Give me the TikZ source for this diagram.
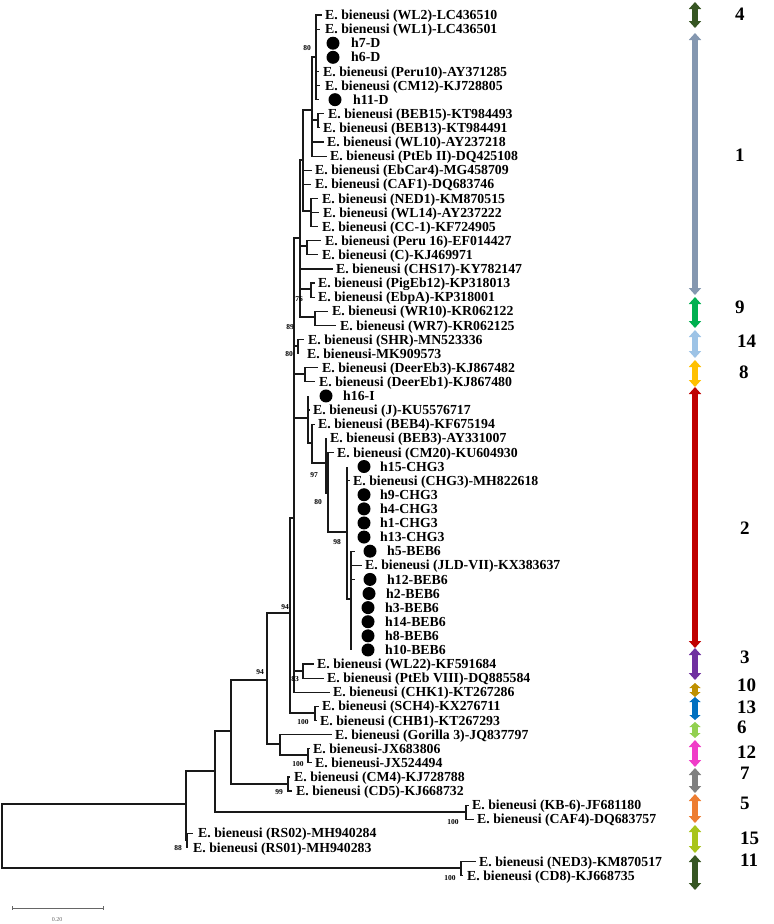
\documentclass[tikz,border=0pt]{standalone}
\usepackage{fontspec}
\setmainfont{Liberation Serif}
\usetikzlibrary{arrows.meta}
\definecolor{gA}{HTML}{375623}
\definecolor{gB}{HTML}{8497B0}
\definecolor{gC}{HTML}{00B050}
\definecolor{gD}{HTML}{9DC3E6}
\definecolor{gE}{HTML}{FFC000}
\definecolor{gF}{HTML}{C00000}
\definecolor{gG}{HTML}{7030A0}
\definecolor{gH}{HTML}{BF9000}
\definecolor{gI}{HTML}{0070C0}
\definecolor{gJ}{HTML}{92D050}
\definecolor{gK}{HTML}{F03CC8}
\definecolor{gL}{HTML}{808080}
\definecolor{gM}{HTML}{ED7D31}
\definecolor{gN}{HTML}{A8C41A}
\tikzset{
  br/.style={line width=1.2pt, draw=black!90},
  lt/.style={anchor=base west, inner sep=0pt, font=\fontsize{13.8}{15}\selectfont\bfseries},
  bs/.style={inner sep=0pt, font=\fontsize{7.5}{8}\selectfont\bfseries},
  dotn/.style={circle, fill=black, minimum size=13pt, inner sep=0pt},
  grp/.style={line width=6pt, {Triangle[width=12pt,length=7pt]}-{Triangle[width=12pt,length=7pt]}},
  grps/.style={line width=6pt, {Triangle[width=11pt,length=5pt]}-{Triangle[width=11pt,length=5pt]}},
  gl/.style={anchor=west, inner sep=0pt, font=\fontsize{19}{20}\selectfont\bfseries}
}
\newcommand\leafT[6]{%
  \pgfmathsetmacro\yy{15+(#3-1)*14.11}%
  \coordinate (#1) at (#4,\yy);
  \node[lt] (#1t) at (#5,\yy+4.6) {#6};
  \draw[br] (#2) |- (#1);
}
\newcommand\leafH[7]{%
  \pgfmathsetmacro\yy{15+(#3-1)*14.11}%
  \coordinate (#1) at (#4,\yy);
  \node[dotn] (#1d) at (#5,\yy) {};
  \node[lt] (#1t) at (#6,\yy+4.6) {#7};
  \draw[br] (#2) |- (#1);
}
\newcommand\grpArrow[8]{%
  \coordinate (#1a) at (695,#3);
  \coordinate (#1b) at (695,#4);
  \draw[#8, draw=#2] (#1a) -- (#1b);
  \node[gl] (#1l) at (#5,#6) {#7};
}
\begin{document}
\begin{tikzpicture}[x=1pt,y=-1pt]
\useasboundingbox (0,0) rectangle (774,924);
% internal nodes
\coordinate (root) at (2,835);
\coordinate (nA) at (186,804);
\coordinate (nNED3) at (461,868);
\coordinate (nB) at (215,771);
\coordinate (nRS) at (187,840);
\coordinate (nC) at (231,731);
\coordinate (nKB) at (466,812);
\coordinate (nD) at (267,680);
\coordinate (nCM) at (288,784);
\coordinate (nE) at (290,613);
\coordinate (nGor) at (280,744);
\coordinate (nJX) at (308,755);
\coordinate (nF) at (294,518);
\coordinate (nSCH) at (315,713);
\coordinate (nWL22) at (303,671);
\coordinate (n300) at (300,238);
\coordinate (nSHR) at (298,346);
\coordinate (nDeer) at (305,374);
\coordinate (n308) at (308,418);
\coordinate (n312b) at (312,443);
\coordinate (n326) at (326,463);
\coordinate (n328) at (328,493);
\coordinate (nCB) at (347,532);
\coordinate (nBEB6) at (351,599);
\coordinate (n303) at (303,160);
\coordinate (nPeru) at (307,246);
\coordinate (nPig) at (311,289);
\coordinate (nWR) at (315,317);
\coordinate (n312) at (312,110);
\coordinate (nNED) at (311,211);
\coordinate (n80a) at (316,57);
\coordinate (nBEB) at (318,120);
% internal edges
\draw[br] (root) |- (nA);
\draw[br] (root) |- (nNED3);
\draw[br] (nA) |- (nB);
\draw[br] (nA) |- (nRS);
\draw[br] (nB) |- (nC);
\draw[br] (nB) |- (nKB);
\draw[br] (nC) |- (nD);
\draw[br] (nC) |- (nCM);
\draw[br] (nD) |- (nE);
\draw[br] (nD) |- (nGor);
\draw[br] (nGor) |- (nJX);
\draw[br] (nE) |- (nF);
\draw[br] (nE) |- (nSCH);
\draw[br] (nF) |- (n300);
\draw[br] (nF) |- (nSHR);
\draw[br] (nF) |- (nDeer);
\draw[br] (nF) |- (n308);
\draw[br] (nF) |- (nWL22);
\draw[br] (n308) |- (n312b);
\draw[br] (n312b) |- (n326);
\draw[br] (n326) |- (n328);
\draw[br] (n328) |- (nCB);
\draw[br] (nCB) |- (nBEB6);
\draw[br] (n300) |- (n303);
\draw[br] (n300) |- (nPeru);
\draw[br] (n300) |- (nPig);
\draw[br] (n300) |- (nWR);
\draw[br] (n303) |- (n312);
\draw[br] (n303) |- (nNED);
\draw[br] (n312) |- (n80a);
\draw[br] (n312) |- (nBEB);
% leaves
\leafT{l1}{n80a}{1}{322}{325}{E. bieneusi (WL2)-LC436510}
\leafT{l2}{n80a}{2}{320}{325}{E. bieneusi (WL1)-LC436501}
\leafH{l3}{n80a}{3}{316}{333}{351}{h7-D}
\leafH{l4}{n80a}{4}{316}{333}{351}{h6-D}
\leafT{l5}{n80a}{5}{319}{323}{E. bieneusi (Peru10)-AY371285}
\leafT{l6}{n80a}{6}{320}{325}{E. bieneusi (CM12)-KJ728805}
\leafH{l7}{n80a}{7}{319}{335}{353}{h11-D}
\leafT{l8}{nBEB}{8}{324}{328}{E. bieneusi (BEB15)-KT984493}
\leafT{l9}{nBEB}{9}{320}{323}{E. bieneusi (BEB13)-KT984491}
\leafT{l10}{n312}{10}{324}{327}{E. bieneusi (WL10)-AY237218}
\leafT{l11}{n312}{11}{327}{330}{E. bieneusi (PtEb II)-DQ425108}
\leafT{l12}{n303}{12}{312}{315}{E. bieneusi (EbCar4)-MG458709}
\leafT{l13}{n303}{13}{311}{315}{E. bieneusi (CAF1)-DQ683746}
\leafT{l14}{nNED}{14}{318}{322}{E. bieneusi (NED1)-KM870515}
\leafT{l15}{nNED}{15}{319}{323}{E. bieneusi (WL14)-AY237222}
\leafT{l16}{nNED}{16}{318}{322}{E. bieneusi (CC-1)-KF724905}
\leafT{l17}{nPeru}{17}{321}{325}{E. bieneusi (Peru 16)-EF014427}
\leafT{l18}{nPeru}{18}{318}{322}{E. bieneusi (C)-KJ469971}
\leafT{l19}{n300}{19}{333}{336}{E. bieneusi (CHS17)-KY782147}
\leafT{l20}{nPig}{20}{315}{318}{E. bieneusi (PigEb12)-KP318013}
\leafT{l21}{nPig}{21}{315}{318}{E. bieneusi (EbpA)-KP318001}
\leafT{l22}{nWR}{22}{328}{332}{E. bieneusi (WR10)-KR062122}
\leafT{l23}{nWR}{23}{336}{340}{E. bieneusi (WR7)-KR062125}
\leafT{l24}{nSHR}{24}{304}{308}{E. bieneusi (SHR)-MN523336}
\leafT{l25}{nSHR}{25}{298}{307}{E. bieneusi-MK909573}
\leafT{l26}{nDeer}{26}{318}{322}{E. bieneusi (DeerEb3)-KJ867482}
\leafT{l27}{nDeer}{27}{315}{319}{E. bieneusi (DeerEb1)-KJ867480}
\leafH{l28}{n308}{28}{308}{326}{343}{h16-I}
\leafT{l29}{n308}{29}{310}{313}{E. bieneusi (J)-KU5576717}
\leafT{l30}{n312b}{30}{315}{318}{E. bieneusi (BEB4)-KF675194}
\leafT{l31}{n326}{31}{327}{330}{E. bieneusi (BEB3)-AY331007}
\leafT{l32}{n328}{32}{334}{337}{E. bieneusi (CM20)-KU604930}
\leafH{l33}{nCB}{33}{347}{364}{380}{h15-CHG3}
\leafT{l34}{nCB}{34}{350}{353}{E. bieneusi (CHG3)-MH822618}
\leafH{l35}{nCB}{35}{347}{364}{380}{h9-CHG3}
\leafH{l36}{nCB}{36}{347}{364}{380}{h4-CHG3}
\leafH{l37}{nCB}{37}{347}{364}{380}{h1-CHG3}
\leafH{l38}{nCB}{38}{347}{364}{380}{h13-CHG3}
\leafH{l39}{nBEB6}{39}{355}{370}{387}{h5-BEB6}
\leafT{l40}{nBEB6}{40}{362}{365}{E. bieneusi (JLD-VII)-KX383637}
\leafH{l41}{nBEB6}{41}{355}{370}{387}{h12-BEB6}
\leafH{l42}{nBEB6}{42}{351}{369}{386}{h2-BEB6}
\leafH{l43}{nBEB6}{43}{351}{368}{385}{h3-BEB6}
\leafH{l44}{nBEB6}{44}{351}{368}{385}{h14-BEB6}
\leafH{l45}{nBEB6}{45}{351}{368}{385}{h8-BEB6}
\leafH{l46}{nBEB6}{46}{351}{368}{385}{h10-BEB6}
\leafT{l47}{nWL22}{47}{314}{317}{E. bieneusi (WL22)-KF591684}
\leafT{l48}{nWL22}{48}{324}{327}{E. bieneusi (PtEb VIII)-DQ885584}
\leafT{l49}{nF}{49}{330}{333}{E. bieneusi (CHK1)-KT267286}
\leafT{l50}{nSCH}{50}{319}{322}{E. bieneusi (SCH4)-KX276711}
\leafT{l51}{nSCH}{51}{317}{320}{E. bieneusi (CHB1)-KT267293}
\leafT{l52}{nGor}{52}{332}{335}{E. bieneusi (Gorilla 3)-JQ837797}
\leafT{l53}{nJX}{53}{310}{313}{E. bieneusi-JX683806}
\leafT{l54}{nJX}{54}{312}{315}{E. bieneusi-JX524494}
\leafT{l55}{nCM}{55}{290}{294}{E. bieneusi (CM4)-KJ728788}
\leafT{l56}{nCM}{56}{292}{296}{E. bieneusi (CD5)-KJ668732}
\leafT{l57}{nKB}{57}{469}{472}{E. bieneusi (KB-6)-JF681180}
\leafT{l58}{nKB}{58}{474}{477}{E. bieneusi (CAF4)-DQ683757}
\leafT{l59}{nRS}{59}{193}{198}{E. bieneusi (RS02)-MH940284}
\leafT{l60}{nRS}{60}{187}{193}{E. bieneusi (RS01)-MH940283}
\leafT{l61}{nNED3}{61}{476}{479}{E. bieneusi (NED3)-KM870517}
\leafT{l62}{nNED3}{62}{463}{467}{E. bieneusi (CD8)-KJ668735}
% support values
\node[bs] (s1) at (307,48) {80};
\node[bs] (s2) at (299,299) {76};
\node[bs] (s3) at (290,327) {89};
\node[bs] (s4) at (289,354) {80};
\node[bs] (s5) at (314,475) {97};
\node[bs] (s6) at (318,502) {80};
\node[bs] (s7) at (337,542) {98};
\node[bs] (s8) at (285,607) {94};
\node[bs] (s9) at (260,672) {94};
\node[bs] (s10) at (295,679) {83};
\node[bs] (s11) at (303,722) {100};
\node[bs] (s12) at (298,764) {100};
\node[bs] (s13) at (279,792) {99};
\node[bs] (s14) at (453,822) {100};
\node[bs] (s15) at (178,848) {88};
\node[bs] (s16) at (450,878) {100};
% scale bar
\coordinate (sb1) at (12,908);
\coordinate (sb2) at (103,908);
\draw[gray!80!black, line width=0.7pt] (sb1) -- (sb2);
\draw[gray!80!black, line width=0.7pt] ([yshift=1.6pt]sb1) -- ([yshift=-1.6pt]sb1);
\draw[gray!80!black, line width=0.7pt] ([yshift=1.6pt]sb2) -- ([yshift=-1.6pt]sb2);
\node[inner sep=0pt, text=gray!80!black, font=\fontsize{6}{7}\selectfont] (sbl) at (57,920) {0.20};
% group arrows
\grpArrow{g4}{gA}{2}{28}{735}{14}{4}{grp}
\grpArrow{g1}{gB}{33}{295}{735}{155}{1}{grp}
\grpArrow{g9}{gC}{297}{328}{735}{307}{9}{grp}
\grpArrow{g14}{gD}{330}{358}{737}{341}{14}{grp}
\grpArrow{g8}{gE}{360}{387}{739}{372}{8}{grp}
\grpArrow{g2}{gF}{387}{648}{740}{528}{2}{grp}
\grpArrow{g3}{gG}{648}{680}{740}{657}{3}{grp}
\grpArrow{g10}{gH}{683}{697}{737}{685}{10}{grps}
\grpArrow{g13}{gI}{697}{720}{737}{707}{13}{grps}
\grpArrow{g6}{gJ}{722}{738}{737}{727}{6}{grps}
\grpArrow{g12}{gK}{740}{767}{737}{752}{12}{grp}
\grpArrow{g7}{gL}{768}{793}{740}{773}{7}{grp}
\grpArrow{g5}{gM}{794}{823}{740}{803}{5}{grp}
\grpArrow{g15}{gN}{825}{853}{740}{838}{15}{grp}
\grpArrow{g11}{gA}{855}{890}{740}{860}{11}{grp}
\end{tikzpicture}
\end{document}
